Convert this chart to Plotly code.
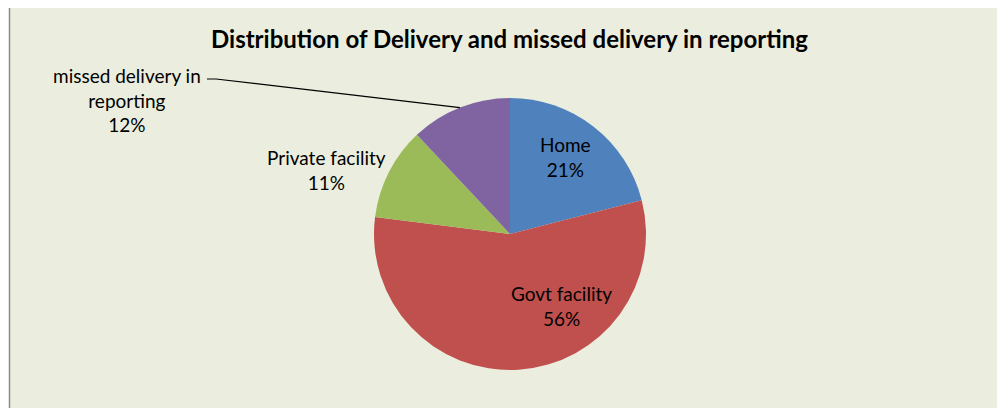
import math
import plotly.graph_objects as go

labels = ["Home", "Govt facility", "Private facility", "missed delivery in reporting"]
values = [21, 56, 11, 12]
colors = ["#4F81BD", "#C0504D", "#9BBB59", "#8064A2"]
title = "Distribution of Delivery and missed delivery in reporting"

W, H = 1005, 408
OFF = 8  # page body margin offset
cx, cy, r = 510 - OFF, 234 - OFF, 136  # pixel geometry of the pie (figure coords)

fig = go.Figure()
fig.add_trace(go.Pie(
    labels=labels, values=values, sort=False, direction="clockwise", rotation=0,
    marker=dict(colors=colors, line=dict(width=0)),
    textinfo="none", hoverinfo="label+percent", showlegend=False,
    domain=dict(x=[(cx - r) / W, (cx + r) / W], y=[1 - (cy + r) / H, 1 - (cy - r) / H]),
))

total = sum(values)
pct = [round(v / total * 100) for v in values]


def px(x):
    return (x - OFF) / W


def py(y):
    return 1 - (y - OFF) / H


font = dict(family="Lato, Open Sans, sans-serif", size=19, color="#000000")

cum = 0
mids = []
for v in values:
    mids.append((cum + v / 2) / total * 2 * math.pi)
    cum += v

# label anchor positions (screen px)
label_pos = [(565, 157), (561, 306), (326, 170), (127, 100)]
label_text = [
    f"{labels[0]}<br>{pct[0]}%",
    f"{labels[1]}<br>{pct[1]}%",
    f"{labels[2]}<br>{pct[2]}%",
    "missed delivery in<br>reporting<br>" + f"{pct[3]}%",
]

annos = []
for (x, y), t in zip(label_pos, label_text):
    annos.append(dict(x=px(x), y=py(y), xref="paper", yref="paper", showarrow=False,
                      xanchor="center", yanchor="middle", text=t, font=font, align="center"))
annos.append(dict(x=px(509), y=py(39), xref="paper", yref="paper", showarrow=False,
                  xanchor="center", yanchor="middle",
                  text=f"<b>{title}</b>", font=dict(family="Lato, Open Sans, sans-serif", size=24, color="#000000")))

a = mids[3]
ex = 510 + r * math.sin(a)
ey = 234 - r * math.cos(a)

shapes = [
    dict(type="rect", xref="paper", yref="paper", x0=px(9.5), y0=-0.05, x1=1.05, y1=py(6.5),
         fillcolor="#EBEEDE", line=dict(color="#8C8C8C", width=1.5), layer="below"),
    dict(type="path", xref="paper", yref="paper",
         path=f"M {px(207)} {py(79)} L {px(216)} {py(79)} L {px(ex)} {py(ey)}",
         line=dict(color="#000000", width=1.2)),
]

fig.update_layout(
    width=W, height=H, margin=dict(l=0, r=0, t=0, b=0),
    paper_bgcolor="#FFFFFF", plot_bgcolor="#FFFFFF",
    annotations=annos, shapes=shapes,
)

fig.write_html("out.html")
